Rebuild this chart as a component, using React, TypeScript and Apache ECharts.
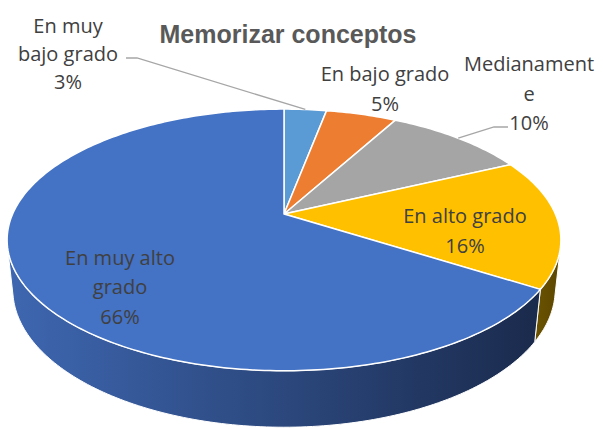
import React, { useEffect, useRef } from "react";
import * as echarts from "echarts";

const TITLE = "Memorizar conceptos";
const categories = ["En muy bajo grado", "En bajo grado", "Medianamente", "En alto grado", "En muy alto grado"];
const values = [3, 5, 10, 16, 66];
const percentLabels = ["3%", "5%", "10%", "16%", "66%"];
const labelLines = [["En muy", "bajo grado"], ["En bajo grado"], ["Medianament", "e"], ["En alto grado"], ["En muy alto", "grado"]];

const topColors = ["#5B9BD5", "#ED7D31", "#A5A5A5", "#FFC000", "#4472C4"];
const wallColors = [
  ["#3A6D9C", "#2A4F73"],
  ["#A8561F", "#7C3F16"],
  ["#767676", "#555555"],
  ["#6B5300", "#5C4600"],
  ["#3E67B1", "#1A2A4C"],
];

// perspective projection of a tilted disc
const CX = 284, CY = 214, F = 1250, SX = 0.977, DIST = 4.5, SIN = 0.4525, COS = 0.892, DEPTH = 0.2;

function project(thetaDeg: number, r: number, h: number): number[] {
  const t = (thetaDeg * Math.PI) / 180;
  const x = r * Math.sin(t);
  const z = -r * Math.cos(t);
  const yc = h * COS - z * SIN;
  const zc = h * SIN + z * COS;
  const k = F / (DIST - zc);
  return [CX + k * x * SX, CY - k * yc];
}

const TV = (Math.acos(-1 / (DIST * COS)) * 180) / Math.PI;

const total = values.reduce((a, b) => a + b, 0);
const starts: number[] = [];
values.reduce((acc, v, i) => {
  starts[i] = acc;
  return acc + v;
}, 0);

function rim(a: number, b: number, h: number): number[][] {
  const n = Math.max(2, Math.ceil(b - a));
  const pts: number[][] = [];
  for (let i = 0; i <= n; i++) pts.push(project(a + ((b - a) * i) / n, 1, h));
  return pts;
}

const labelPos = [
  { x: 68, y: 53, lh: 28 },
  { x: 385, y: 88, lh: 30 },
  { x: 529, y: 93, lh: 29.5 },
  { x: 465, y: 230, lh: 30 },
  { x: 120, y: 286.5, lh: 29.5 },
];

export default function App() {
  const ref = useRef<HTMLDivElement>(null);
  useEffect(() => {
    if (!ref.current) return;
    const chart = echarts.init(ref.current, undefined, { renderer: "svg" });
    const data = values.map((v, i) => ({ name: categories[i], value: [i, starts[i], v] }));
    const mid = (i: number) => ((starts[i] + values[i] / 2) / total) * 360;

    const graphics: any[] = [
      {
        type: "text",
        style: {
          text: TITLE,
          x: 288,
          y: 34,
          textAlign: "center",
          textVerticalAlign: "middle",
          font: 'bold 25px "Liberation Sans", Arial, sans-serif',
          fill: "#595959",
        },
        z: 10,
      },
      {
        type: "polyline",
        shape: { points: [[126, 58], [137, 58], project(mid(0), 1, 0)] },
        style: { stroke: "#A6A6A6", lineWidth: 1.3, fill: "none" },
        z: 10,
      },
      {
        type: "polyline",
        shape: { points: [[508, 127], [494, 127], project(mid(2), 1, 0)] },
        style: { stroke: "#A6A6A6", lineWidth: 1.3, fill: "none" },
        z: 10,
      },
    ];
    values.forEach((v, i) => {
      const p = labelPos[i];
      graphics.push({
        type: "text",
        style: {
          text: [...labelLines[i], percentLabels[i]].join("\n"),
          x: p.x,
          y: p.y,
          textAlign: "center",
          textVerticalAlign: "middle",
          font: '20px "Open Sans", sans-serif',
          lineHeight: p.lh,
          fill: "#404040",
        },
        z: 10,
      });
    });

    chart.setOption({
      animation: false,
      backgroundColor: "#ffffff",
      series: [
        {
          type: "custom",
          coordinateSystem: "none",
          silent: true,
          z: 1,
          data,
          renderItem: (params: any, api: any) => {
            const i = api.value(0);
            const a = (api.value(1) / total) * 360;
            const b = ((api.value(1) + api.value(2)) / total) * 360;
            const lo = Math.max(a, TV);
            const hi = Math.min(b, 360 - TV);
            if (lo >= hi) return { type: "group", children: [] };
            const top = rim(lo, hi, 0);
            const bottom = rim(lo, hi, -DEPTH).reverse();
            return {
              type: "polygon",
              shape: { points: top.concat(bottom) },
              style: {
                fill: new echarts.graphic.LinearGradient(0, 0, 1, 0, [
                  { offset: 0, color: wallColors[i][0] },
                  { offset: 1, color: wallColors[i][1] },
                ]),
                stroke: "#ffffff",
                lineWidth: 1,
              },
            };
          },
        },
        {
          type: "custom",
          coordinateSystem: "none",
          silent: true,
          z: 2,
          data,
          renderItem: (params: any, api: any) => {
            const i = api.value(0);
            const a = (api.value(1) / total) * 360;
            const b = ((api.value(1) + api.value(2)) / total) * 360;
            const pts = [project(0, 0, 0)].concat(rim(a, b, 0));
            return {
              type: "polygon",
              shape: { points: pts },
              style: { fill: topColors[i], stroke: "#ffffff", lineWidth: 1.5, lineJoin: "round" },
            };
          },
        },
      ],
      graphic: graphics,
    });
    return () => chart.dispose();
  }, []);
  return <div ref={ref} style={{ position: "absolute", left: 0, top: 0, width: 603, height: 429 }} />;
}
